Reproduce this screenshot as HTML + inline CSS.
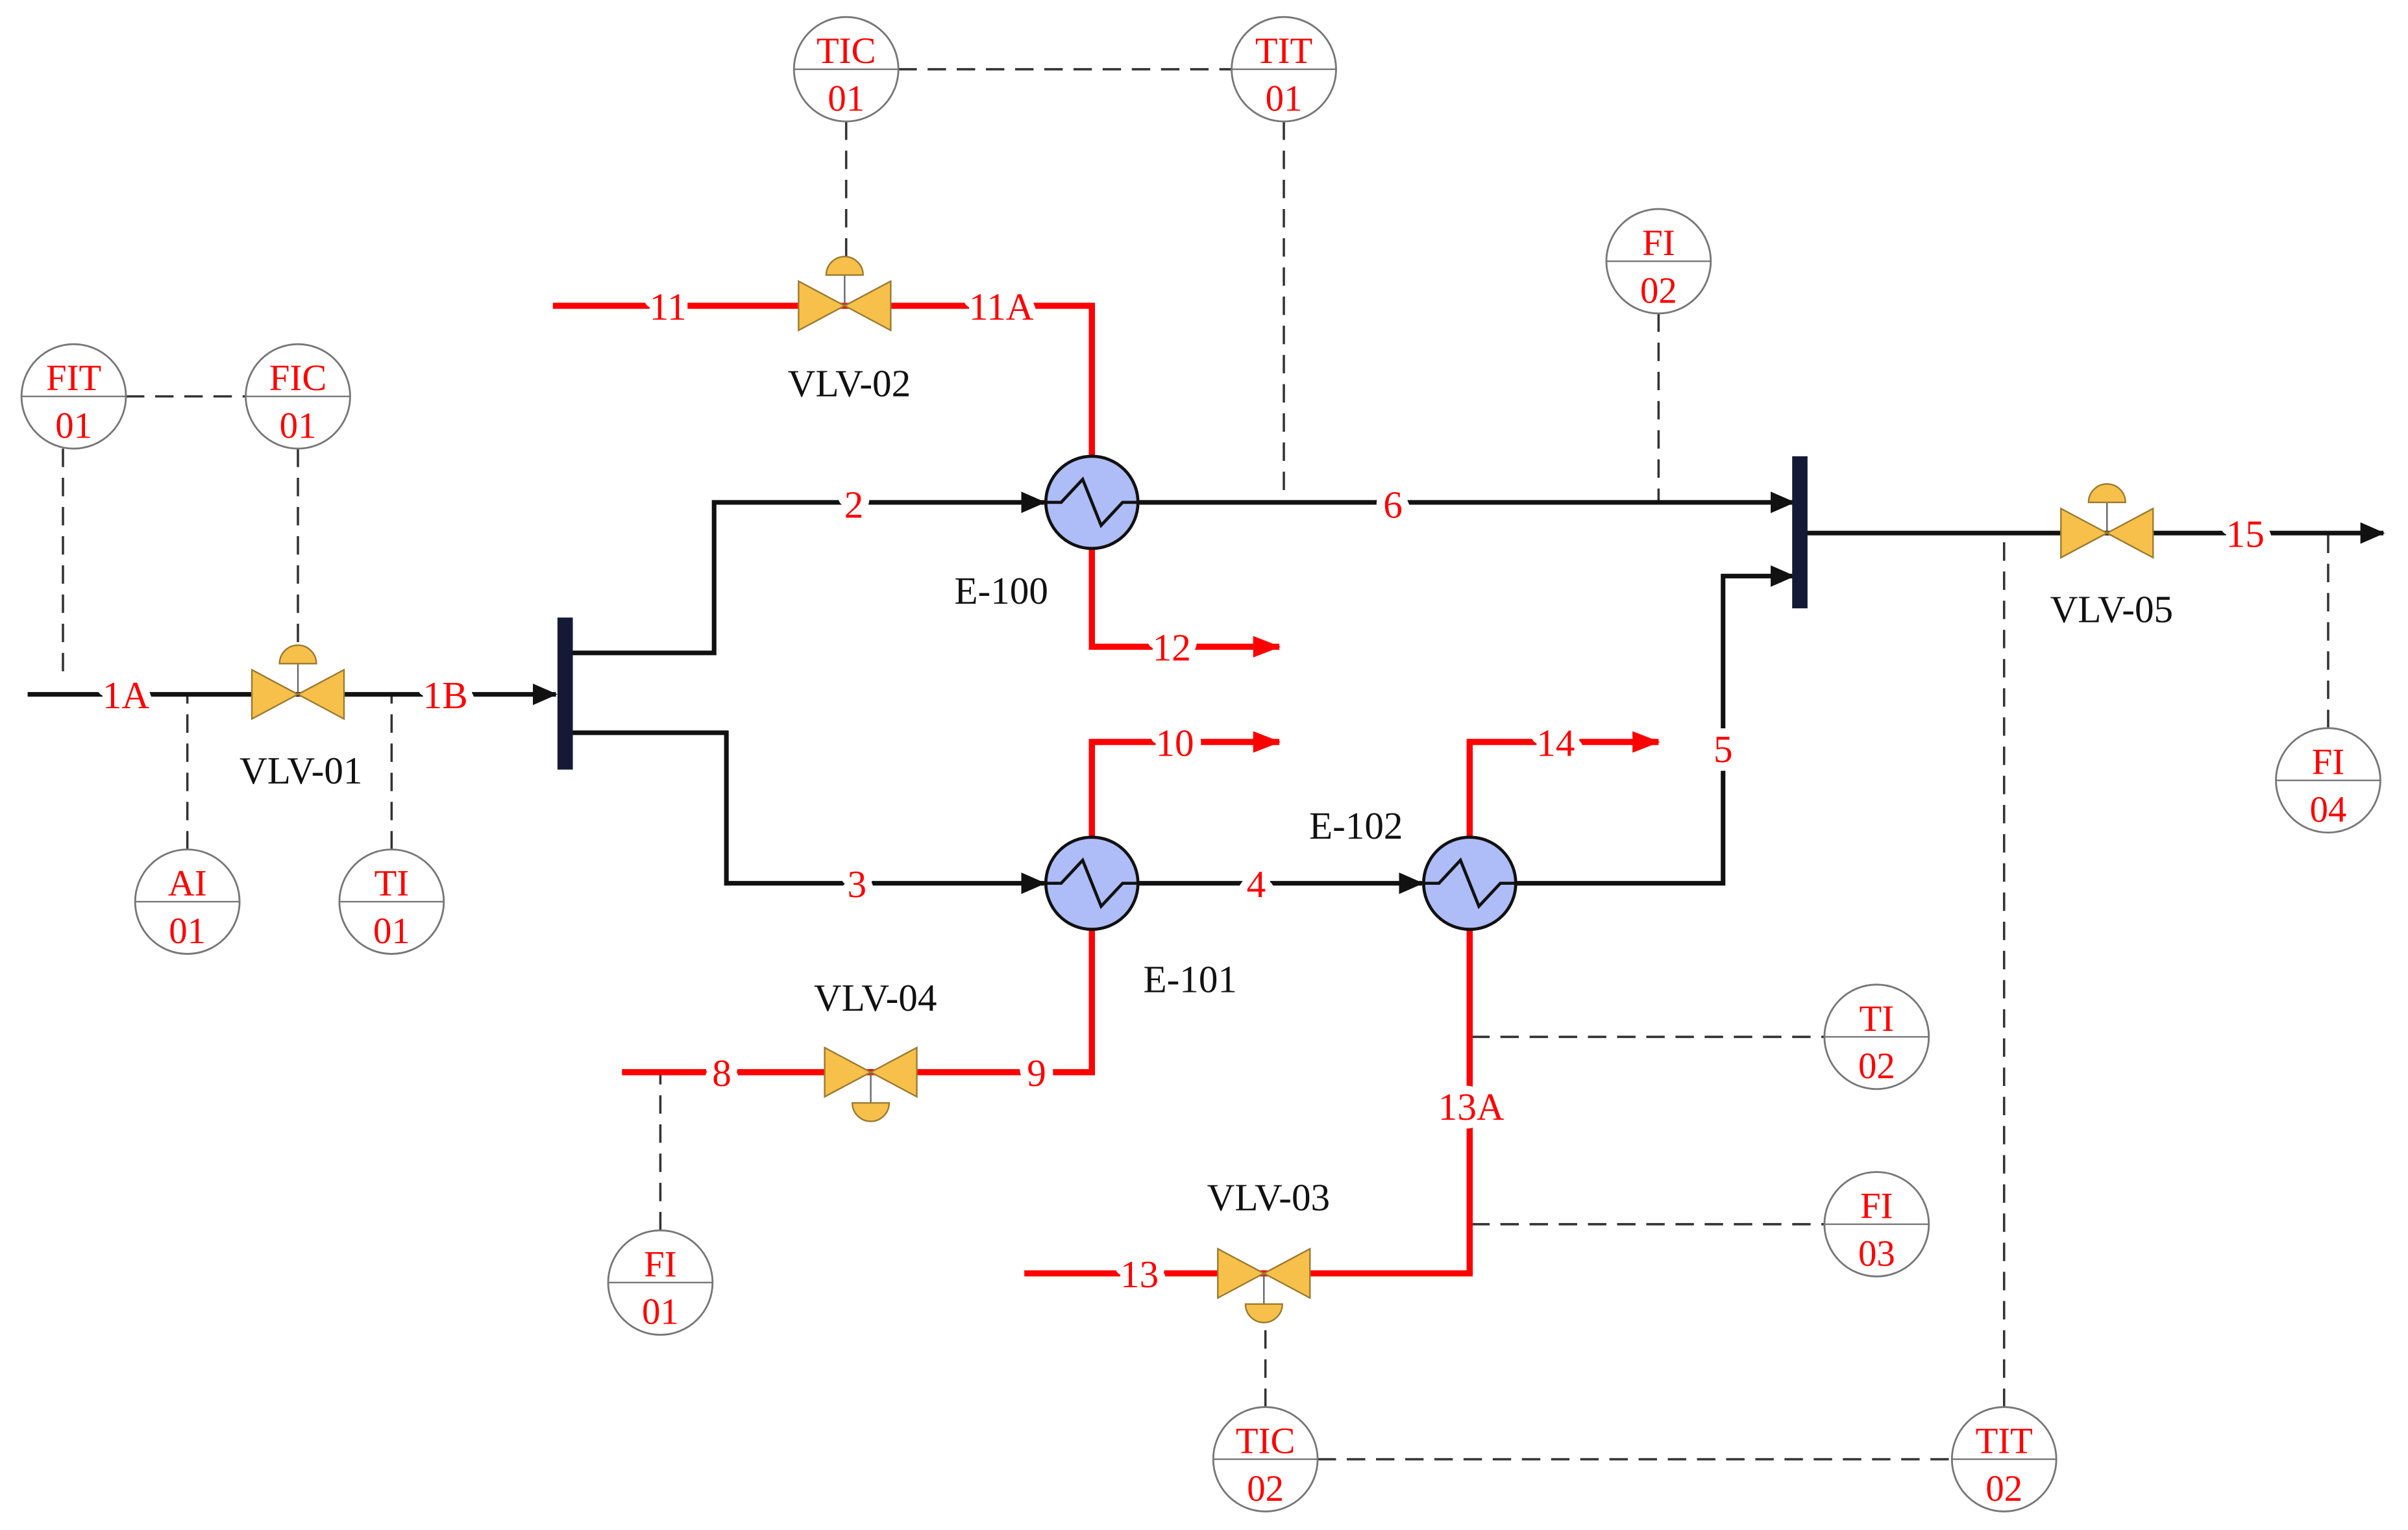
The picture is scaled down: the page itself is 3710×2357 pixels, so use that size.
<!DOCTYPE html>
<html><head><meta charset="utf-8"><style>html,body{margin:0;padding:0;background:#fff}svg{display:block}</style></head><body>
<svg width="3710" height="2357" viewBox="0 0 1568 996" xmlns="http://www.w3.org/2000/svg" font-family="Liberation Serif, serif">
<defs>
<marker id="ar" markerWidth="18" markerHeight="14" refX="17" refY="7" orient="auto" markerUnits="userSpaceOnUse"><path d="M0,0 L18,7 L0,14 z" fill="#f00"/></marker>
<marker id="ab2" markerWidth="16" markerHeight="14" refX="15" refY="7" orient="auto" markerUnits="userSpaceOnUse"><path d="M0,0 L16,7 L0,14 z" fill="#111"/></marker>
<g id="v"><path d="M-30,-16 L0,0 L-30,16 z M30,-16 L0,0 L30,16 z" fill="#f7c04a" stroke="#9a7a30" stroke-width="1"/></g>
<g id="au"><line x1="0" y1="0" x2="0" y2="-20" stroke="#666" stroke-width="1"/><path d="M-12,-20 A12,12 0 0 1 12,-20 z" fill="#f7c04a" stroke="#9a7a30" stroke-width="1"/></g>
<g id="ad"><line x1="0" y1="0" x2="0" y2="20" stroke="#666" stroke-width="1"/><path d="M-12,20 A12,12 0 0 0 12,20 z" fill="#f7c04a" stroke="#9a7a30" stroke-width="1"/></g>
<g id="hx"><circle r="30" fill="#aebdf7" stroke="#111" stroke-width="2"/><path d="M-30,0 L-20,0 L-6,-15 L6,15 L20,0 L30,0" fill="none" stroke="#111" stroke-width="2"/></g>
<g id="ic"><circle r="34" fill="#fff" stroke="#777" stroke-width="1.2"/><line x1="-34" y1="0" x2="34" y2="0" stroke="#777" stroke-width="1"/></g>
</defs>

<g stroke="#333" stroke-width="1.5" stroke-dasharray="12,7" fill="none">
<path d="M585,45 H802"/><path d="M551,79 V172"/><path d="M836,79 V327"/><path d="M1080,204 V327"/>
<path d="M82,258 H160"/><path d="M41,292 V440"/><path d="M194,292 V424"/>
<path d="M122,553 V452"/><path d="M255,553 V452"/><path d="M430,801 V698"/>
<path d="M958,675 H1188"/><path d="M958,797 H1188"/><path d="M824,916 V862"/>
<path d="M858,950 H1271"/><path d="M1305,916 V347"/><path d="M1516,474 V347"/>
</g>

<g stroke="#111" stroke-width="3" fill="none">
<path d="M18,452 H362" marker-end="url(#ab2)"/>
<path d="M372,425 H465 V327 H680" marker-end="url(#ab2)"/>
<path d="M372,477 H473 V575 H680" marker-end="url(#ab2)"/>
<path d="M741,327 H1168" marker-end="url(#ab2)"/>
<path d="M741,575 H926" marker-end="url(#ab2)"/>
<path d="M987,575 H1122 V375 H1168" marker-end="url(#ab2)"/>
<path d="M1176,347 H1552" marker-end="url(#ab2)"/>
</g>
<rect x="363" y="402" width="10" height="99" fill="#141a35"/>
<rect x="1167" y="297" width="10" height="99" fill="#141a35"/>

<g stroke="#f00" stroke-width="4" fill="none">
<path d="M360,199 H711 V297"/>
<path d="M711,357 V421 H833" marker-end="url(#ar)"/>
<path d="M711,545 V483 H833" marker-end="url(#ar)"/>
<path d="M405,698 H711 V605"/>
<path d="M957,545 V483 H1080" marker-end="url(#ar)"/>
<path d="M667,829 H957 V605"/>
</g>

<g transform="translate(550,199)"><use href="#au"/><use href="#v"/></g>
<g transform="translate(194,452)"><use href="#au"/><use href="#v"/></g>
<g transform="translate(567,698)"><use href="#ad"/><use href="#v"/></g>
<g transform="translate(823,829)"><use href="#ad"/><use href="#v"/></g>
<g transform="translate(1372,347)"><use href="#au"/><use href="#v"/></g>

<use href="#hx" x="711" y="327"/><use href="#hx" x="711" y="575"/><use href="#hx" x="957" y="575"/>

<g fill="#f00" font-size="25" text-anchor="middle" stroke="#fff" stroke-width="11" stroke-linejoin="round" paint-order="stroke">
<text x="82" y="461">1A</text><text x="290" y="461">1B</text>
<text x="556" y="337">2</text><text x="558" y="584">3</text>
<text x="818" y="584">4</text><text x="1122" y="496">5</text><text x="907" y="337">6</text>
<text x="470" y="707">8</text><text x="675" y="707">9</text>
<text x="765" y="492">10</text><text x="435" y="208">11</text><text x="652" y="208">11A</text>
<text x="763" y="430">12</text><text x="742" y="838">13</text><text x="958" y="729">13A</text>
<text x="1013" y="492">14</text><text x="1462" y="356">15</text>
</g>

<g fill="#111" font-size="25" text-anchor="middle">
<text x="553" y="258">VLV-02</text><text x="652" y="393">E-100</text><text x="196" y="510">VLV-01</text>
<text x="775" y="646">E-101</text><text x="883" y="546">E-102</text><text x="570" y="658">VLV-04</text>
<text x="826" y="788">VLV-03</text><text x="1375" y="405">VLV-05</text>
</g>

<g font-size="24" fill="#f00" text-anchor="middle">
<g transform="translate(551,45)"><use href="#ic"/><text y="-4">TIC</text><text y="27">01</text></g>
<g transform="translate(836,45)"><use href="#ic"/><text y="-4">TIT</text><text y="27">01</text></g>
<g transform="translate(1080,170)"><use href="#ic"/><text y="-4">FI</text><text y="27">02</text></g>
<g transform="translate(48,258)"><use href="#ic"/><text y="-4">FIT</text><text y="27">01</text></g>
<g transform="translate(194,258)"><use href="#ic"/><text y="-4">FIC</text><text y="27">01</text></g>
<g transform="translate(122,587)"><use href="#ic"/><text y="-4">AI</text><text y="27">01</text></g>
<g transform="translate(255,587)"><use href="#ic"/><text y="-4">TI</text><text y="27">01</text></g>
<g transform="translate(430,835)"><use href="#ic"/><text y="-4">FI</text><text y="27">01</text></g>
<g transform="translate(1222,675)"><use href="#ic"/><text y="-4">TI</text><text y="27">02</text></g>
<g transform="translate(1222,797)"><use href="#ic"/><text y="-4">FI</text><text y="27">03</text></g>
<g transform="translate(824,950)"><use href="#ic"/><text y="-4">TIC</text><text y="27">02</text></g>
<g transform="translate(1305,950)"><use href="#ic"/><text y="-4">TIT</text><text y="27">02</text></g>
<g transform="translate(1516,508)"><use href="#ic"/><text y="-4">FI</text><text y="27">04</text></g>
</g>
</svg>
</body></html>
